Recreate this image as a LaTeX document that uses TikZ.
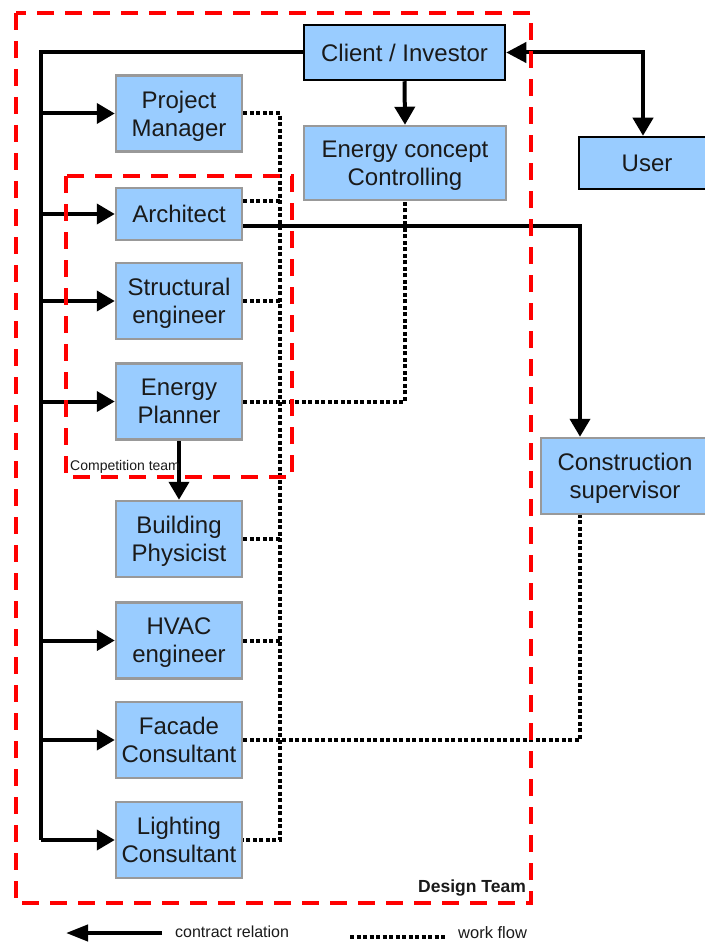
\documentclass[tikz,border=0pt]{standalone}
\usepackage{fontspec}
\setmainfont{Liberation Sans}
\usetikzlibrary{arrows.meta}
\definecolor{boxblue}{HTML}{99CCFF}
\definecolor{boxgray}{HTML}{999999}
\definecolor{txt}{HTML}{1A1A1A}
\begin{document}
\begin{tikzpicture}[x=1pt,y=-1pt,
 box/.style={draw=boxgray, line width=2.5pt, fill=boxblue, text=txt, inner sep=0pt, align=center,
   minimum width=126pt, minimum height=76pt, text depth=0pt, font=\fontsize{24}{28}\selectfont},
 kbox/.style={box, draw=black},
 contract/.style={line width=4pt, -{Triangle[length=18pt,width=20pt]}},
 cline/.style={line width=4pt},
 flow/.style={line width=4pt, dash pattern=on 4pt off 2.5pt},
 team/.style={draw=red, line width=4pt, dash pattern=on 17pt off 11pt},
 lbl/.style={text=txt, inner sep=0pt}]
\useasboundingbox (0,0) rectangle (704,944);
\fill[white] (0,0) rectangle (704,944);

% nodes
\node[kbox, minimum width=201pt, minimum height=55pt] (cl) at (404.5,52.5) {Client / Investor};
\node[box, minimum width=202pt, minimum height=74pt] (ecc) at (405,163) {Energy concept\\Controlling};
\node[kbox, minimum width=136pt, minimum height=52pt] (us) at (647,163) {User};
\node[box, minimum width=168pt] (cs) at (625,476) {Construction\\supervisor};
\node[box] (pm) at (179,113.5) {Project\\Manager};
\node[box, minimum height=52pt] (ar) at (179,214) {Architect};
\node[box] (se) at (179,301) {Structural\\engineer};
\node[box] (ep) at (179,401.5) {Energy\\Planner};
\node[box] (bp) at (179,539) {Building\\Physicist};
\node[box] (hv) at (179,640.5) {HVAC\\engineer};
\node[box] (fc) at (179,740) {Facade\\Consultant};
\node[box] (lc) at (179,840) {Lighting\\Consultant};

% contract relations
\coordinate (bb) at (41,840);
\draw[cline] (cl.west) -| (bb);
\foreach \n in {pm,ar,se,ep,hv,fc,lc}{
  \draw[contract] (\n.west -| bb) -- (\n.west);
}
\draw[contract] (cl.south) -- (ecc.north);
\draw[line width=4pt, {Triangle[length=20pt,width=20pt]}-{Triangle[length=18pt,width=20pt]}]
  (cl.east) -| ([xshift=-4pt]us.north);
\draw[contract] ([yshift=-12pt]ar.east) -| ([xshift=-45pt]cs.north);
\draw[contract] (ep.south) -- (bp.north);

% work flow
\coordinate (ft) at (280,113.5);
\coordinate (fbt) at (280,840);
\draw[flow] (pm.east) -- (ft) -- (fbt) -- (lc.east);
\path ([yshift=13pt]ar.east) coordinate (a1);
\draw[flow] (a1) -- (a1 -| ft);
\foreach \n in {se,bp,hv}{
  \draw[flow] (\n.east) -- (\n.east -| ft);
}
\draw[flow] (ep.east) -| (ecc.south);
\draw[flow] (fc.east) -| ([xshift=-45pt]cs.south);

% team frames
\draw[team] (16,13) rectangle (531,903);
\draw[team] (66,176) rectangle (292,477);
\node[lbl, anchor=base west, font=\fontsize{14}{14}\selectfont] (ct) at (70,470) {Competition team};
\node[lbl, anchor=base east, font=\bfseries\fontsize{17.5}{18}\selectfont] (dt) at (526,892) {Design Team};

% legend
\coordinate (l1) at (162,933);
\coordinate (l2) at (66,933);
\draw[line width=4pt, -{Triangle[length=22pt,width=16pt]}] (l1) -- (l2);
\node[lbl, anchor=west, font=\fontsize{16}{16}\selectfont] (lg1) at (175,932) {contract relation};
\coordinate (l3) at (350,937);
\coordinate (l4) at (447,937);
\draw[flow] (l3) -- (l4);
\node[lbl, anchor=west, font=\fontsize{16.5}{17}\selectfont] (lg2) at (458,933) {work flow};
\end{tikzpicture}
\end{document}
